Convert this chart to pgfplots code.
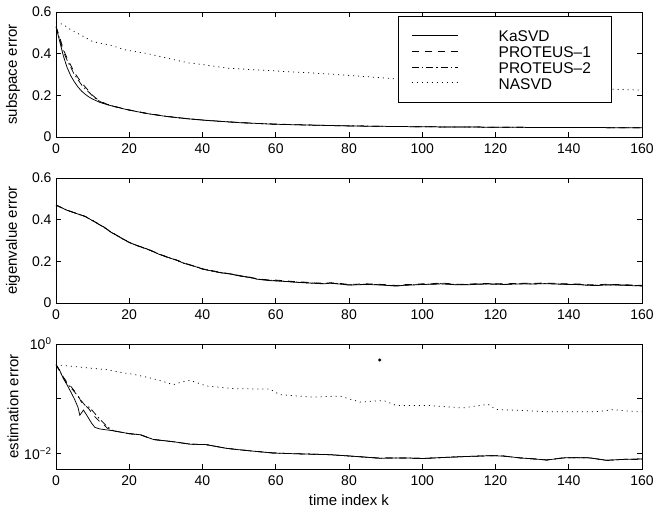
\documentclass[border=0pt]{standalone}
\usepackage{fontspec}
\setmainfont{Liberation Sans}
\usepackage{pgfplots}
\pgfplotsset{compat=1.18}

\pgfplotsset{
  myax/.style={
    scale only axis, width=586pt, height=125pt,
    xmin=0, xmax=160, xtick={0,20,...,160},
    tick align=inside, tick pos=both, major tick length=5pt,
    axis line style={line width=0.7pt},
    every tick/.style={line width=0.6pt, black},
    tick label style={font=\fontsize{14}{16}\selectfont},
    /pgf/number format/assume math mode=true,
    xticklabel style={yshift=-3.5pt},
    yticklabel style={xshift=-1pt},
    label style={font=\fontsize{15}{17}\selectfont},
    ylabel style={at={(axis description cs:-0.0734,0.5)}, anchor=center},
    clip=true,
  },
  ka/.style={black, line width=0.75pt},
  pa/.style={black, line width=0.75pt, dash pattern=on 7pt off 6pt},
  pb/.style={black, line width=0.75pt, dash pattern=on 7pt off 3pt on 1.5pt off 3pt},
  na/.style={black, line width=0.75pt, dash pattern=on 1pt off 4pt},
}
\newcommand{\lgent}[1]{\makebox[111pt][l]{\rule[-5.5pt]{0pt}{19.8pt}\hspace{11pt}#1}}

% subspace error
\pgfplotstableread{
k ka p1 p2
0 0.530 0.530 0.530
1 0.460 0.480 0.470
2 0.390 0.420 0.410
3 0.335 0.380 0.370
4 0.295 0.345 0.335
5 0.265 0.310 0.300
6 0.240 0.285 0.275
7 0.220 0.260 0.250
8 0.205 0.240 0.230
9 0.192 0.220 0.215
10 0.182 0.200 0.197
11 0.174 0.185 0.182
12 0.166 0.172 0.170
14 0.155 0.157 0.156
16 0.146 0.147 0.146
18 0.137 0.138 0.137
20 0.129 0.130 0.129
25 0.112 0.113 0.112
30 0.099 0.099 0.100
35 0.089 0.090 0.089
40 0.081 0.081 0.082
45 0.075 0.075 0.075
50 0.069 0.070 0.069
55 0.065 0.065 0.065
60 0.061 0.062 0.061
70 0.057 0.057 0.057
80 0.053 0.053 0.054
90 0.051 0.051 0.051
100 0.049 0.049 0.049
110 0.048 0.048 0.048
120 0.047 0.047 0.047
130 0.046 0.046 0.046
140 0.045 0.045 0.045
150 0.045 0.045 0.045
160 0.044 0.044 0.044
}\subtab
\pgfplotstableread{
k na
0 0.550
2 0.540
4 0.515
6 0.497
10 0.458
15 0.440
19 0.418
25 0.400
30 0.380
36 0.356
40 0.348
47 0.330
55 0.322
65 0.312
75 0.302
82 0.293
90 0.283
95 0.276
100 0.270
110 0.260
120 0.250
130 0.242
140 0.236
150 0.230
160 0.225
}\subna

% eigenvalue error
\pgfplotstableread{
k ka p1 p2 na
0 0.470 0.470 0.470 0.470
3 0.445 0.446 0.445 0.446
5 0.433 0.433 0.434 0.433
8 0.415 0.416 0.415 0.414
10 0.395 0.396 0.395 0.396
13 0.365 0.366 0.364 0.365
15 0.340 0.341 0.340 0.342
18 0.310 0.311 0.310 0.309
20 0.290 0.291 0.292 0.290
23 0.270 0.271 0.269 0.270
25 0.258 0.259 0.258 0.260
28 0.235 0.237 0.236 0.235
30 0.222 0.223 0.222 0.224
33 0.205 0.206 0.205 0.204
35 0.190 0.192 0.191 0.190
38 0.175 0.176 0.175 0.177
40 0.163 0.164 0.163 0.165
43 0.152 0.154 0.152 0.153
45 0.145 0.147 0.146 0.145
48 0.138 0.139 0.138 0.140
50 0.130 0.132 0.131 0.130
53 0.122 0.124 0.123 0.122
55 0.114 0.116 0.115 0.114
58 0.108 0.111 0.109 0.110
60 0.106 0.110 0.107 0.108
63 0.103 0.106 0.104 0.103
65 0.100 0.103 0.101 0.102
68 0.097 0.100 0.098 0.097
70 0.095 0.097 0.096 0.095
73 0.092 0.095 0.093 0.094
75 0.095 0.097 0.096 0.095
78 0.090 0.093 0.091 0.092
80 0.086 0.089 0.087 0.086
83 0.088 0.091 0.089 0.088
85 0.089 0.092 0.090 0.091
88 0.087 0.090 0.088 0.087
90 0.085 0.088 0.086 0.085
93 0.081 0.084 0.082 0.083
95 0.085 0.088 0.086 0.085
98 0.087 0.090 0.088 0.089
100 0.089 0.092 0.090 0.089
103 0.090 0.093 0.091 0.090
105 0.092 0.096 0.093 0.094
108 0.089 0.092 0.090 0.089
110 0.087 0.090 0.088 0.087
113 0.088 0.091 0.089 0.090
115 0.090 0.093 0.091 0.090
118 0.091 0.094 0.092 0.091
120 0.090 0.093 0.091 0.092
123 0.089 0.092 0.090 0.089
125 0.091 0.094 0.092 0.091
128 0.092 0.095 0.093 0.094
130 0.091 0.094 0.092 0.091
133 0.093 0.096 0.094 0.093
135 0.092 0.095 0.093 0.094
138 0.090 0.093 0.091 0.090
140 0.089 0.092 0.090 0.089
143 0.088 0.091 0.089 0.090
145 0.085 0.088 0.086 0.085
148 0.084 0.087 0.085 0.086
150 0.087 0.090 0.088 0.087
153 0.086 0.089 0.087 0.086
155 0.085 0.088 0.086 0.087
158 0.083 0.086 0.084 0.083
160 0.082 0.085 0.083 0.082
}\eigtab

% estimation error
\pgfplotstableread{
k ka
0 0.420
1 0.330
2 0.235
3 0.180
4 0.135
5 0.100
6 0.070
6.5 0.050
7.5 0.062
8.4 0.050
9.7 0.036
10.6 0.030
12 0.028
15.6 0.026
20 0.023
23 0.022
26.6 0.018
32 0.0164
36.6 0.0148
41 0.0145
46.6 0.0124
50 0.0117
54 0.0110
59.3 0.0102
65 0.0099
70 0.0097
74.8 0.0095
80 0.0090
88.4 0.0082
95 0.0083
100.3 0.0081
106.6 0.0085
112 0.0088
118.5 0.0091
122 0.0090
126.7 0.0083
130 0.0080
134 0.0076
138.5 0.0083
142 0.0084
145.8 0.0083
150.3 0.0075
155 0.0078
159.4 0.0079
160 0.0079
}\estka
\pgfplotstableread{
k p1
0 0.420
1 0.330
2 0.250
3 0.200
4 0.170
5 0.140
6 0.115
7 0.085
8 0.075
9 0.065
10 0.052
11 0.044
12 0.038
13 0.034
14 0.029
15.6 0.026
20 0.023
23 0.022
26.6 0.018
32 0.0164
36.6 0.0148
41 0.0145
46.6 0.0124
50 0.0117
54 0.0110
59.3 0.0102
65 0.0099
70 0.0097
74.8 0.0095
80 0.0090
88.4 0.0082
95 0.0083
100.3 0.0081
106.6 0.0085
112 0.0088
118.5 0.0091
122 0.0090
126.7 0.0083
130 0.0080
134 0.0076
138.5 0.0083
142 0.0084
145.8 0.0083
150.3 0.0075
155 0.0078
159.4 0.0079
160 0.0079
}\estpa
\pgfplotstableread{
k p2
0 0.420
1 0.320
2 0.240
3 0.190
4 0.160
5 0.135
6 0.110
7 0.090
8 0.075
9 0.070
10 0.060
11 0.050
12 0.042
13 0.036
14 0.031
15.6 0.026
20 0.023
23 0.022
26.6 0.018
32 0.0164
36.6 0.0148
41 0.0145
46.6 0.0124
50 0.0117
54 0.0110
59.3 0.0102
65 0.0099
70 0.0097
74.8 0.0095
80 0.0090
88.4 0.0082
95 0.0083
100.3 0.0081
106.6 0.0085
112 0.0088
118.5 0.0091
122 0.0090
126.7 0.0083
130 0.0080
134 0.0076
138.5 0.0083
142 0.0084
145.8 0.0083
150.3 0.0075
155 0.0078
159.4 0.0079
160 0.0079
}\estpb
\pgfplotstableread{
k na
0 0.420
4.7 0.390
10 0.360
13.8 0.340
18 0.300
21.1 0.280
25.7 0.240
29 0.210
32 0.180
34 0.200
36.6 0.217
41.1 0.171
48.4 0.153
58.4 0.150
61 0.119
70 0.107
77.5 0.112
83 0.087
89.4 0.093
93 0.075
102 0.075
111 0.068
118 0.079
120 0.064
134 0.058
147.6 0.058
152 0.063
158.5 0.058
160 0.058
}\estna

\begin{document}
\begin{tikzpicture}
\path[use as bounding box] (-56pt,12pt) rectangle (599pt,-496pt);

\begin{axis}[myax, at={(0pt,0pt)}, anchor=north west,
  ymin=0, ymax=0.6, ytick={0,0.2,0.4,0.6},
  ylabel={subspace error},
  legend cell align=left,
  legend style={at={(axis description cs:0.9483,0.9704)}, anchor=north east,
    draw=black, line width=0.6pt, fill=white,
    inner xsep=12.7pt, inner ysep=11.4pt, column sep=29pt, row sep=0pt,
    font=\fontsize{15.5}{17}\selectfont, nodes={inner sep=0pt}},
  legend image code/.code={\draw[#1] (0pt,0pt) -- (46.7pt,0pt);},
]
\addplot[ka] table[x=k, y=ka] {\subtab};
\addlegendentry{\lgent{KaSVD}}
\addplot[pa] table[x=k, y=p1] {\subtab};
\addlegendentry{\lgent{PROTEUS–1}}
\addplot[pb] table[x=k, y=p2] {\subtab};
\addlegendentry{\lgent{PROTEUS–2}}
\addplot[na] table[x=k, y=na] {\subna};
\addlegendentry{\lgent{NASVD}}
\end{axis}

\begin{axis}[myax, at={(0pt,-166pt)}, anchor=north west,
  ymin=0, ymax=0.6, ytick={0,0.2,0.4,0.6},
  ylabel={eigenvalue error},
]
\addplot[ka] table[x=k, y=ka] {\eigtab};
\addplot[pa] table[x=k, y=p1] {\eigtab};
\addplot[pb] table[x=k, y=p2] {\eigtab};
\addplot[na] table[x=k, y=na] {\eigtab};
\end{axis}

\begin{axis}[myax, at={(0pt,-332pt)}, anchor=north west,
  ymode=log, ymin=0.0052, ymax=1, ytick={1,0.1,0.01},
  yticklabels={{10\textsuperscript{0}},{},{10\textsuperscript{−2}}},
  yminorticks=false,
  ylabel={estimation error},
  xlabel={time index k},
  xlabel style={at={(axis description cs:0.5,-0.248)}, anchor=center},
]
\addplot[na] table[x=k, y=na] {\estna};
\addplot[pa] table[x=k, y=p1] {\estpa};
\addplot[pb] table[x=k, y=p2] {\estpb};
\addplot[ka] table[x=k, y=ka] {\estka};
\addplot[only marks, mark=*, mark size=1.3pt, black] coordinates {(88.4,0.51)};
\end{axis}
\end{tikzpicture}
\end{document}
